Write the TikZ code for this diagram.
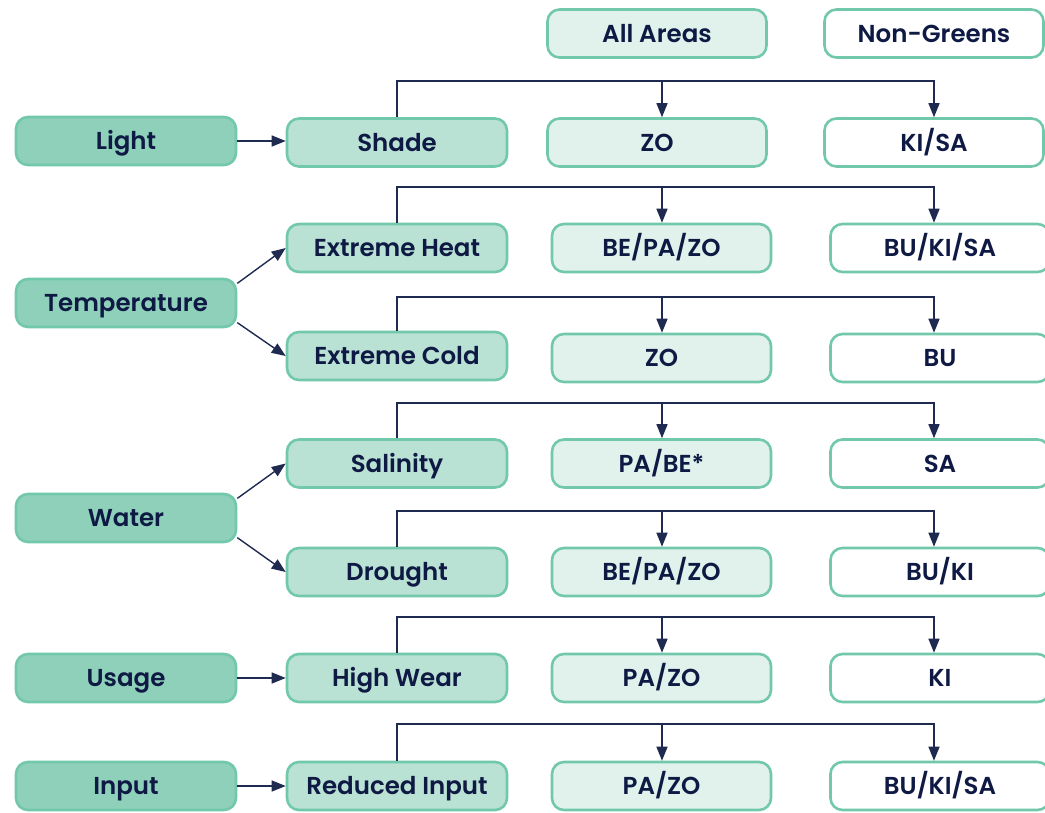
\documentclass[tikz,border=0pt]{standalone}
\usepackage{fontspec}
\setmainfont{Poppins}[BoldFont={* SemiBold}]
\usetikzlibrary{arrows.meta,calc}
\definecolor{ink}{HTML}{0F1A44}
\definecolor{wire}{HTML}{1F2A50}
\definecolor{edge}{HTML}{72C8AB}
\definecolor{catfill}{HTML}{8ED0BA}
\definecolor{subfill}{HTML}{B9E1D4}
\definecolor{allfill}{HTML}{E0F2EB}
\begin{document}
\begin{tikzpicture}[x=1pt,y=-1pt,
  box/.style={draw=edge, line width=2.6pt, rounded corners=12pt,
    minimum height=48pt, inner sep=0pt, text=ink,
    text height=17pt, text depth=0pt,
    font=\fontsize{24.5}{27}\selectfont\bfseries},
  cat/.style={box, fill=catfill, minimum width=220pt},
  sub/.style={box, fill=subfill, minimum width=220pt},
  all/.style={box, fill=allfill, minimum width=219pt},
  ng/.style={box, fill=white, minimum width=219pt},
  link/.style={draw=wire, line width=1.4pt},
  arr/.style={link, -{Triangle[length=14pt,width=11pt]}}
]
\useasboundingbox (0,0) rectangle (1045,812);

% column headers
\node[all] (hall) at (657,33.5) {All Areas};
\node[ng]  (hng)  at (934,33.5) {Non-Greens};

% categories
\node[cat] (light) at (126,141) {Light};
\node[cat] (temp)  at (126,303) {Temperature};
\node[cat] (water) at (126,518) {Water};
\node[cat] (usage) at (126,678) {Usage};
\node[cat] (input) at (126,786) {Input};

% stress factors
\node[sub] (shade) at (397,142.5) {Shade};
\node[sub] (heat)  at (397,248)   {Extreme Heat};
\node[sub] (cold)  at (397,356)   {Extreme Cold};
\node[sub] (sal)   at (397,463.5) {Salinity};
\node[sub] (dro)   at (397,572)   {Drought};
\node[sub] (wear)  at (397,678)   {High Wear};
\node[sub] (red)   at (397,786)   {Reduced Input};

% all areas
\node[all] (m1) at (657,142.5)   {ZO};
\node[all] (m2) at (661.5,248)   {BE/PA/ZO};
\node[all] (m3) at (661.5,358)   {ZO};
\node[all] (m4) at (661.5,463.5) {PA/BE*};
\node[all] (m5) at (661.5,572)   {BE/PA/ZO};
\node[all] (m6) at (661.5,678)   {PA/ZO};
\node[all] (m7) at (661.5,786)   {PA/ZO};

% non-greens
\node[ng] (r1) at (934,142.5) {KI/SA};
\node[ng] (r2) at (940,248)   {BU/KI/SA};
\node[ng] (r3) at (940,358)   {BU};
\node[ng] (r4) at (940,463.5) {SA};
\node[ng] (r5) at (940,572)   {BU/KI};
\node[ng] (r6) at (940,678)   {KI};
\node[ng] (r7) at (940,786)   {BU/KI/SA};

% category to factor arrows
\draw[arr] (light.east) -- (light.east -| shade.west);
\draw[arr] (temp.10)  -- (heat.west);
\draw[arr] (temp.-10) -- (cold.west);
\draw[arr] (water.10)  -- (sal.west);
\draw[arr] (water.-10) -- (dro.west);
\draw[arr] (usage.east) -- (usage.east -| wear.west);
\draw[arr] (input.east) -- (input.east -| red.west);

% branches down to the two area columns
\coordinate (ax1) at (662,0);
\coordinate (ax2) at (934,0);
\foreach \s/\m/\r/\h in {shade/m1/r1/81, heat/m2/r2/187, cold/m3/r3/297,
    sal/m4/r4/403, dro/m5/r5/511, wear/m6/r6/617, red/m7/r7/724} {
  \draw[arr] (\s.north) |- ($(ax2)+(0,\h)$) -- (ax2 |- \r.north);
  \draw[arr] ($(ax1)+(0,\h)$) -- (ax1 |- \m.north);
}
\end{tikzpicture}
\end{document}
